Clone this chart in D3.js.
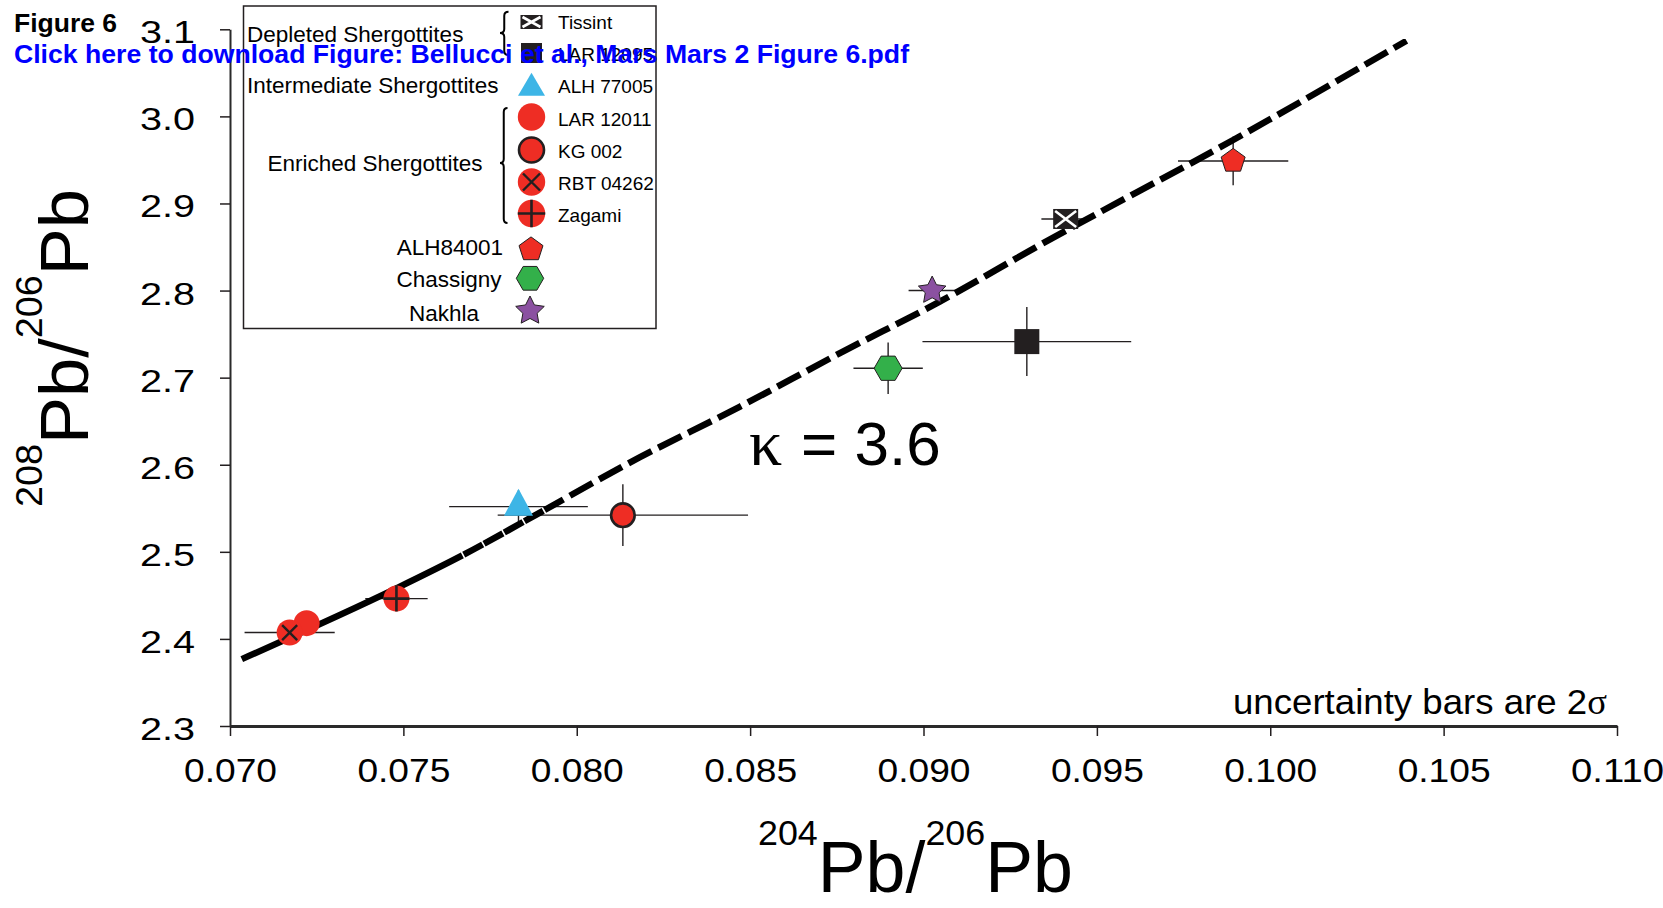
<!DOCTYPE html>
<html>
<head>
<meta charset="utf-8">
<script src="https://cdn.jsdelivr.net/npm/d3@7"></script>
<style>
  body { margin: 0; background: #fff; }
  svg { display: block; }
  text { font-family: "Liberation Sans", Arial, Helvetica, sans-serif; fill: #000; }
</style>
</head>
<body>
<svg id="chart" width="1663" height="908"></svg>
<script>
// ---- data ---------------------------------------------------------------
const samples  = ["Tissint", "LAR 12095", "ALH 77005", "LAR 12011", "KG 002",
                  "RBT 04262", "Zagami", "ALH84001", "Chassigny", "Nakhla"];
const pb204_206 = [0.09410, 0.09298, 0.07832, 0.07221, 0.08133,
                   0.07172, 0.07480, 0.09893, 0.08898, 0.09025];
const pb208_206 = [2.8822, 2.7414, 2.5519, 2.4181, 2.5421,
                   2.4073, 2.4463, 2.9488, 2.7108, 2.8000];
// 2-sigma uncertainties
const err204 = [0.00070, 0.00301, 0.00200, 0, 0.00361,
                0.00130, 0.00090, 0.00159, 0.00100, 0.00068];
const err208 = [0, 0.0396, 0.0187, 0, 0.0354,
                0, 0, 0.0280, 0.0296, 0];

// kappa = 3.6 model curve
const curve204 = [0.07034, 0.07481, 0.07673, 0.07865, 0.08153, 0.08471,
                  0.08759, 0.09047, 0.09336, 0.09893, 0.10393];
const curve208 = [2.3768, 2.4583, 2.4965, 2.5386, 2.6025, 2.6668,
                  2.7281, 2.7873, 2.8524, 2.9729, 3.0869];

const xTicks = [0.070, 0.075, 0.080, 0.085, 0.090, 0.095, 0.100, 0.105, 0.110];
const yTicks = [2.3, 2.4, 2.5, 2.6, 2.7, 2.8, 2.9, 3.0, 3.1];

const legendNames  = ["Tissint", "LAR 12095", "ALH 77005", "LAR 12011",
                      "KG 002", "RBT 04262", "Zagami"];
const groupLabels  = ["Depleted Shergottites", "Intermediate Shergottites",
                      "Enriched Shergottites", "ALH84001", "Chassigny", "Nakhla"];

// ---- styles -------------------------------------------------------------
const RED = "#ee2d24", BLUE = "#3db5e6", GREEN = "#33b04a",
      PURPLE = "#8b51a1", INK = "#231f20";

const markerKind = {
  "Tissint": "boxX", "LAR 12095": "box", "ALH 77005": "triangle",
  "LAR 12011": "dot", "KG 002": "ring", "RBT 04262": "dotX",
  "Zagami": "dotPlus", "ALH84001": "pentagon", "Chassigny": "hexagon",
  "Nakhla": "star"
};

const svg = d3.select("#chart");
const x = d3.scaleLinear().domain([0.07, 0.11]).range([230, 1617]);
const y = d3.scaleLinear().domain([2.3, 3.1]).range([726, 29.3]);

function polygon(n, R, rot) {
  const pts = d3.range(n).map(i => {
    const a = rot + i * 2 * Math.PI / n;
    return [R * Math.cos(a), R * Math.sin(a)];
  });
  return "M" + pts.map(p => p[0].toFixed(2) + "," + p[1].toFixed(2)).join("L") + "Z";
}
function starPath(R, r) {
  const pts = d3.range(10).map(i => {
    const a = -Math.PI / 2 + i * Math.PI / 5, rr = i % 2 ? r : R;
    return [rr * Math.cos(a), rr * Math.sin(a)];
  });
  return "M" + pts.map(p => p[0].toFixed(2) + "," + p[1].toFixed(2)).join("L") + "Z";
}

function drawMarker(g, kind, cx, cy, o = {}) {
  const m = g.append("g").attr("transform", `translate(${cx},${cy})`);
  const r = o.r || 13;
  switch (kind) {
    case "boxX": {
      const w = o.w || 25, h = o.h || 20;
      m.append("rect").attr("x", -w / 2).attr("y", -h / 2)
        .attr("width", w).attr("height", h).attr("fill", INK);
      m.append("path")
        .attr("d", `M${-w/2+2},${-h/2+2}L${w/2-2},${h/2-2}M${w/2-2},${-h/2+2}L${-w/2+2},${h/2-2}`)
        .attr("stroke", "#fff").attr("stroke-width", 2.6);
      break;
    }
    case "box": {
      const w = o.w || 25, h = o.h || 25;
      m.append("rect").attr("x", -w / 2).attr("y", -h / 2)
        .attr("width", w).attr("height", h).attr("fill", INK);
      break;
    }
    case "triangle": {
      const w = o.w || 29, h = o.h || 27;
      m.append("path").attr("d", `M0,${-2*h/3}L${w/2},${h/3}L${-w/2},${h/3}Z`).attr("fill", BLUE);
      break;
    }
    case "dot":
      m.append("circle").attr("r", r).attr("fill", RED);
      break;
    case "ring":
      m.append("circle").attr("r", r - 1.2).attr("fill", RED)
        .attr("stroke", INK).attr("stroke-width", 2.6);
      break;
    case "dotX": {
      const d = (o.cross || 7.5);
      m.append("circle").attr("r", r).attr("fill", RED);
      m.append("path").attr("d", `M${-d},${-d}L${d},${d}M${d},${-d}L${-d},${d}`)
        .attr("stroke", INK).attr("stroke-width", 2.4);
      break;
    }
    case "dotPlus":
      m.append("circle").attr("r", r).attr("fill", RED);
      m.append("path").attr("d", `M${-r},0L${r},0M0,${-r}L0,${r}`)
        .attr("stroke", INK).attr("stroke-width", 2.6);
      break;
    case "pentagon":
      m.append("path").attr("d", polygon(5, o.R || 12.6, -Math.PI / 2))
        .attr("fill", RED).attr("stroke", INK).attr("stroke-width", 1);
      break;
    case "hexagon":
      m.append("path").attr("d", polygon(6, o.R || 14, 0))
        .attr("fill", GREEN).attr("stroke", INK).attr("stroke-width", 1);
      break;
    case "star": {
      const R = o.R || 14.5;
      m.append("path").attr("d", starPath(R, R * 0.5))
        .attr("fill", PURPLE).attr("stroke", INK).attr("stroke-width", 1);
      break;
    }
  }
  return m;
}

// fit a text element to a measured length by stretching along its baseline
function fitText(sel, baseTransform, target) {
  const len = sel.node().getComputedTextLength();
  sel.attr("transform", `${baseTransform} scale(${target / len},1)`);
}

// ---- axes ---------------------------------------------------------------
const xAxis = svg.append("g").attr("transform", `translate(0,${y(2.3)})`)
  .call(d3.axisBottom(x).tickValues(xTicks).tickSize(10).tickSizeOuter(0)
        .tickFormat(d3.format(".3f")));
xAxis.select(".domain").attr("stroke", "#2a2a2a").attr("stroke-width", 3);
xAxis.selectAll(".tick line").attr("stroke", INK).attr("stroke-width", 1.5);
xAxis.selectAll(".tick text")
  .attr("y", 56).attr("dy", null)
  .style("font-size", "34px").attr("fill", "#000")
  .attr("textLength", 93).attr("lengthAdjust", "spacingAndGlyphs");

const yAxis = svg.append("g").attr("transform", `translate(${x(0.07)},0)`)
  .call(d3.axisLeft(y).tickValues(yTicks).tickSize(10).tickSizeOuter(0)
        .tickFormat(d3.format(".1f")));
yAxis.select(".domain").attr("stroke", "#2a2a2a").attr("stroke-width", 2);
yAxis.selectAll(".tick line").attr("stroke", INK).attr("stroke-width", 1.5);
yAxis.selectAll(".tick text")
  .attr("x", -35).attr("y", 13.5).attr("dy", null)
  .style("font-size", "32px").attr("fill", "#000")
  .attr("textLength", 55).attr("lengthAdjust", "spacingAndGlyphs");

// ---- uncertainty bars ---------------------------------------------------
const bars = svg.append("g").attr("stroke", INK).attr("stroke-width", 1.4);
samples.forEach((s, i) => {
  const cx = x(pb204_206[i]), cy = y(pb208_206[i]);
  if (err204[i] > 0)
    bars.append("line").attr("x1", x(pb204_206[i] - err204[i])).attr("x2", x(pb204_206[i] + err204[i]))
      .attr("y1", cy).attr("y2", cy);
  if (err208[i] > 0)
    bars.append("line").attr("x1", cx).attr("x2", cx)
      .attr("y1", y(pb208_206[i] - err208[i])).attr("y2", y(pb208_206[i] + err208[i]));
});

// ---- model curve --------------------------------------------------------
const curvePath = svg.append("path")
  .datum(d3.zip(curve204, curve208))
  .attr("d", d3.line().x(d => x(d[0])).y(d => y(d[1])).curve(d3.curveMonotoneX))
  .attr("fill", "none").attr("stroke", "#000").attr("stroke-width", 6.5);
{
  const node = curvePath.node(), total = node.getTotalLength();
  const lenAtX = px => {
    let lo = 0, hi = total;
    for (let k = 0; k < 40; k++) {
      const mid = (lo + hi) / 2;
      if (node.getPointAtLength(mid).x < px) lo = mid; else hi = mid;
    }
    return lo;
  };
  const L1 = lenAtX(x(0.0767)), L2 = lenAtX(x(0.0791));
  const dash = [L1];
  let pos = L1;
  while (pos < L2) { dash.push(1.6, 21.5); pos += 23.1; }
  while (pos < total + 40) { dash.push(7.5, 26); pos += 33.5; }
  curvePath.attr("stroke-dasharray", dash.map(v => v.toFixed(2)).join(","));
}

// ---- markers ------------------------------------------------------------
const marks = svg.append("g");
samples.forEach((s, i) => drawMarker(marks, markerKind[s], x(pb204_206[i]), y(pb208_206[i])));

// ---- annotations --------------------------------------------------------
svg.append("text").attr("x", 749).attr("y", 465)
  .style("font-family", "'Liberation Serif', 'Times New Roman', serif")
  .style("font-size", "66px").text("κ");
svg.append("text").attr("x", 801).attr("y", 465)
  .style("font-size", "62px").text("= 3.6");

const unc = svg.append("text").style("font-size", "35px");
unc.append("tspan").text("uncertainty bars are 2");
unc.append("tspan").style("font-family", "'Liberation Serif', 'Times New Roman', serif").text("σ");
fitText(unc, "translate(1233,714)", 374);

// axis titles
const xTitle = svg.append("text");
xTitle.append("tspan").style("font-size", "36px").attr("dy", -47).text("204");
xTitle.append("tspan").style("font-size", "72px").attr("dy", 47).text("Pb/");
xTitle.append("tspan").style("font-size", "36px").attr("dy", -47).text("206");
xTitle.append("tspan").style("font-size", "72px").attr("dy", 47).text("Pb");
fitText(xTitle, "translate(758,892)", 315);

const yTitle = svg.append("text");
yTitle.append("tspan").style("font-size", "37px").attr("dy", -46).text("208");
yTitle.append("tspan").style("font-size", "69px").attr("dy", 46).text("Pb/");
yTitle.append("tspan").style("font-size", "37px").attr("dy", -46).text("206");
yTitle.append("tspan").style("font-size", "69px").attr("dy", 46).text("Pb");
fitText(yTitle, "translate(88,507) rotate(-90)", 318);

// ---- legend -------------------------------------------------------------
const lg = svg.append("g");
lg.append("rect").attr("x", 243.5).attr("y", 6).attr("width", 412.5).attr("height", 322.5)
  .attr("fill", "#fff").attr("stroke", INK).attr("stroke-width", 1.5);

const legendRowY   = [22, 53, 88, 117, 150, 182, 213.5];
const legendBase   = [28.5, 61, 93.3, 125.5, 158, 190, 222];
const legendOpts   = [{w: 22, h: 14}, {w: 21, h: 20}, {w: 27, h: 23}, {r: 13.7},
                      {r: 13.7}, {r: 13.7, cross: 8.5}, {r: 13.7}];
legendNames.forEach((s, i) => {
  drawMarker(lg, markerKind[s], 531.5, legendRowY[i], legendOpts[i]);
  lg.append("text").attr("x", 558).attr("y", legendBase[i])
    .style("font-size", "19px").text(s);
});
drawMarker(lg, "pentagon", 531, 249.5, {R: 12.6});
drawMarker(lg, "hexagon", 530, 278.3, {R: 13.7});
drawMarker(lg, "star", 530, 311, {R: 15});

const groupPos = [
  {x: 247, y: 41.7, anchor: "start", size: 22.5},
  {x: 247, y: 92.7, anchor: "start", size: 22.5},
  {x: 267.5, y: 171, anchor: "start", size: 22.5},
  {x: 503, y: 255, anchor: "end", size: 22.5},
  {x: 501.5, y: 286.7, anchor: "end", size: 22.5},
  {x: 479, y: 320.5, anchor: "end", size: 22.5}
];
groupLabels.forEach((t, i) => {
  lg.append("text").attr("x", groupPos[i].x).attr("y", groupPos[i].y)
    .attr("text-anchor", groupPos[i].anchor)
    .style("font-size", groupPos[i].size + "px").text(t);
});

// curly braces for the shergottite groups
function brace(top, bottom, mid, xl, xr) {
  const xm = (xl + xr) / 2, r = 4;
  return `M${xr},${top}Q${xm},${top} ${xm},${top + r}L${xm},${mid - r}` +
         `Q${xm},${mid} ${xl},${mid}Q${xm},${mid} ${xm},${mid + r}` +
         `L${xm},${bottom - r}Q${xm},${bottom} ${xr},${bottom}`;
}
lg.append("path").attr("d", brace(11.7, 55, 33, 500, 508.5))
  .attr("fill", "none").attr("stroke", "#000").attr("stroke-width", 2);
lg.append("path").attr("d", brace(108, 223, 163, 500, 507.5))
  .attr("fill", "none").attr("stroke", "#000").attr("stroke-width", 2);

// ---- page header --------------------------------------------------------
svg.append("text").attr("x", 14).attr("y", 31.5)
  .style("font-size", "25px").style("font-weight", "bold")
  .attr("textLength", 103).attr("lengthAdjust", "spacingAndGlyphs")
  .text("Figure 6");
svg.append("text").attr("x", 14).attr("y", 63)
  .style("font-size", "25.5px").style("font-weight", "bold")
  .style("fill", "#0000ff")
  .attr("textLength", 895).attr("lengthAdjust", "spacingAndGlyphs")
  .text("Click here to download Figure: Bellucci et al., Mars Mars 2 Figure 6.pdf");
</script>
</body>
</html>
